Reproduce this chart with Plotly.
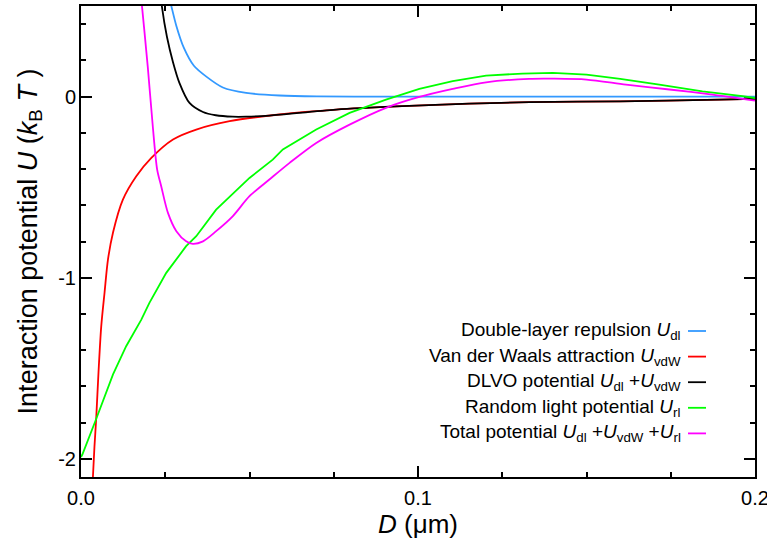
import plotly.graph_objects as go

# ---------------- data ----------------
D_dl = [0.0250, 0.0268, 0.0283, 0.0305, 0.0335, 0.0372, 0.0421, 0.0490, 0.0589, 0.0700, 0.0900, 0.1200, 0.1600, 0.2000]
U_dl = [0.64, 0.50, 0.39, 0.27, 0.17, 0.11, 0.05, 0.02, 0.006, 0.001, 0.0, 0.0, 0.0, 0.0]

D_vdw = [0.0034, 0.0040, 0.0045, 0.0052, 0.0060, 0.0070, 0.0080, 0.0095, 0.0124, 0.0164, 0.0208,
         0.0273, 0.0342, 0.0441, 0.0589, 0.0757, 0.0954, 0.1152, 0.1331, 0.1600, 0.1895, 0.2000]
U_vdw = [-2.15, -1.93, -1.78, -1.52, -1.27, -1.08, -0.90, -0.75, -0.57, -0.44, -0.34,
         -0.237, -0.182, -0.136, -0.099, -0.072, -0.053, -0.039, -0.031, -0.026, -0.017, -0.013]

D_dlvo = [0.0233, 0.0240, 0.0255, 0.0273, 0.0292, 0.0322, 0.0362, 0.0400, 0.0450, 0.0490, 0.0559,
          0.0757, 0.0954, 0.1152, 0.1331, 0.1600, 0.1895, 0.2000]
U_dlvo = [0.62, 0.498, 0.33, 0.19, 0.076, -0.035, -0.085, -0.103, -0.111, -0.111, -0.105,
          -0.072, -0.053, -0.039, -0.031, -0.026, -0.017, -0.013]

D_rl = [0.0, 0.0004, 0.0045, 0.0095, 0.0134, 0.0179, 0.0203, 0.0253, 0.0312, 0.0342, 0.0401, 0.0500,
        0.0569, 0.0599, 0.0698, 0.0797, 0.0905, 0.1004, 0.1103, 0.1202, 0.1310, 0.1400, 0.1500,
        0.1600, 0.1716, 0.1844, 0.1963, 0.2000]
U_rl = [-1.99, -1.976, -1.78, -1.534, -1.378, -1.231, -1.139, -0.973, -0.826, -0.771, -0.624, -0.449,
        -0.348, -0.292, -0.182, -0.090, -0.017, 0.042, 0.085, 0.116, 0.127, 0.131, 0.121,
        0.098, 0.066, 0.029, 0.002, -0.008]

D_tot = [0.0, 0.0, 0.0150, 0.0181, 0.0198, 0.0213, 0.0226, 0.0238, 0.0258, 0.0283, 0.0312, 0.0332,
         0.0362, 0.0401, 0.0450, 0.0500, 0.0559, 0.0619, 0.0698, 0.0797, 0.0905, 0.1004, 0.1103,
         0.1202, 0.1330, 0.1400, 0.1500, 0.1617, 0.1746, 0.1874, 0.2000]
U_tot = [-2.5, 1.5, 1.1, 0.498, 0.167, -0.164, -0.403, -0.495, -0.642, -0.743, -0.799, -0.813,
         -0.799, -0.743, -0.661, -0.550, -0.458, -0.366, -0.256, -0.155, -0.062, -0.002, 0.042,
         0.079, 0.098, 0.099, 0.094, 0.066, 0.039, 0.011, -0.022]

series_names = [
    "Double-layer repulsion <i>U</i><sub>dl</sub>",
    "Van der Waals attraction <i>U</i><sub>vdW</sub>",
    "DLVO potential <i>U</i><sub>dl</sub> +<i>U</i><sub>vdW</sub>",
    "Random light potential <i>U</i><sub>rl</sub>",
    "Total potential <i>U</i><sub>dl</sub> +<i>U</i><sub>vdW</sub> +<i>U</i><sub>rl</sub>",
]
series_x = [D_dl, D_vdw, D_dlvo, D_rl, D_tot]
series_y = [U_dl, U_vdw, U_dlvo, U_rl, U_tot]
series_colors = ["#3399ff", "#ff0000", "#000000", "#00ff00", "#ff00ff"]
series_shapes = ["spline", "spline", "spline", "linear", "spline"]

x_tick_vals = [0.0, 0.1, 0.2]
x_tick_text = ["0.0", "0.1", "0.2"]
y_tick_vals = [-2, -1, 0]
y_tick_text = ["-2", "-1", "0"]

# ---------------- figure ----------------
W, H = 767, 545
ML, MR, MT, MB = 81, 12, 6, 68
PW, PH = W - ML - MR, H - MT - MB
FONT = "Liberation Sans, Arial, Helvetica, sans-serif"

def px_x(px):
    return (px - ML) / PW

def px_y(py):
    return (H - MB - py) / PH

fig = go.Figure()
for xs, ys, name, col, shp in zip(series_x, series_y, series_names, series_colors, series_shapes):
    fig.add_trace(go.Scatter(x=xs, y=ys, mode="lines", name=name,
                             line=dict(color=col, width=1.8, shape=shp, smoothing=0.8),
                             showlegend=False))

# legend drawn like the original (text right-aligned, sample line to the right)
annotations = []
shapes = []
for i, (name, col) in enumerate(zip(series_names, series_colors)):
    yy = 331 + i * 25.6
    annotations.append(dict(xref="paper", yref="paper", x=px_x(683), y=px_y(yy),
                            xanchor="right", yanchor="middle", showarrow=False,
                            text=name, font=dict(family=FONT, size=19, color="#000")))
    shapes.append(dict(type="line", xref="paper", yref="paper",
                       x0=px_x(688), x1=px_x(706), y0=px_y(yy), y1=px_y(yy),
                       line=dict(color=col, width=1.8)))

axis_common = dict(showline=True, linecolor="black", linewidth=2, mirror="allticks",
                   ticks="inside", tickcolor="black", tickwidth=1.5, ticklen=11,
                   showgrid=False, zeroline=False, layer="below traces",
                   ticklabeloverflow="allow",
                   tickfont=dict(family=FONT, size=20, color="#000"))

fig.update_layout(
    width=W, height=H,
    margin=dict(l=ML, r=MR, t=MT, b=MB, autoexpand=False),
    paper_bgcolor="white", plot_bgcolor="white",
    font=dict(family=FONT, color="#000"),
    xaxis=dict(range=[0, 0.2], tickmode="array", tickvals=x_tick_vals, ticktext=x_tick_text,
               ticklabelstandoff=2,
               minor=dict(tickmode="linear", tick0=0, dtick=0.025, ticks="inside",
                          ticklen=5, tickwidth=1.5, tickcolor="black", showgrid=False),
               title=dict(text="<i>D</i> (μm)", font=dict(family=FONT, size=26), standoff=3),
               **axis_common),
    yaxis=dict(range=[-2.1, 0.5], tickmode="array", tickvals=y_tick_vals, ticktext=y_tick_text,
               ticklabelstandoff=-1,
               minor=dict(tickmode="linear", tick0=0, dtick=0.2, ticks="inside",
                          ticklen=5, tickwidth=1.5, tickcolor="black", showgrid=False),
               title=dict(text="Interaction potential <i>U</i> (<i>k</i><sub>B</sub> <i>T</i> )",
                          font=dict(family=FONT, size=27), standoff=13),
               **axis_common),
    annotations=annotations,
    shapes=shapes,
)

fig.write_html("out.html", config={"displayModeBar": False},
               post_script="document.body.style.margin='0';document.body.style.overflow='hidden';")
